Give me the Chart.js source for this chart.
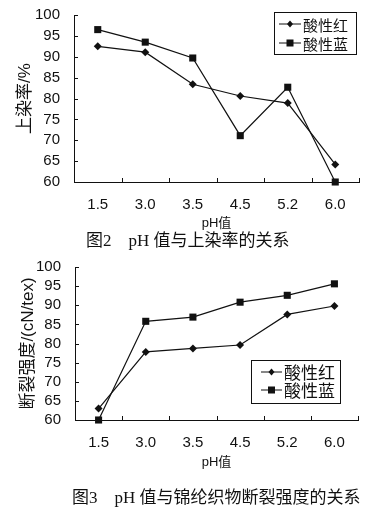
<!DOCTYPE html>
<html>
<head>
<meta charset="utf-8">
<script src="https://cdn.jsdelivr.net/npm/chart.js@4.4.1/dist/chart.umd.min.js"></script>
<style>
    body { margin: 0; background: #fff; }
    #pagina { position: relative; width: 375px; height: 509px; overflow: hidden; }
    canvas { position: absolute; left: 0; }
    .legenda-fig {
        position: absolute;
        font-family: "Liberation Serif", "Noto Sans CJK SC", serif;
        font-size: 17px;
        color: #111;
        white-space: pre;
        line-height: 20px;
    }
</style>
</head>
<body>
<div id="pagina">
    <canvas id="graficoTingimento" width="375" height="232" style="top:0"></canvas>
    <div class="legenda-fig" style="left:86px; top:231px;">图2　pH 值与上染率的关系</div>
    <canvas id="graficoResistencia" width="375" height="225" style="top:250px"></canvas>
    <div class="legenda-fig" style="left:72px; top:488px;">图3　pH 值与锦纶织物断裂强度的关系</div>
</div>

<script>
// dados
const valoresPH = ['1.5', '3.0', '3.5', '4.5', '5.2', '6.0'];
const nomesSeries = ['酸性红', '酸性蓝'];
const ticksY = [60, 65, 70, 75, 80, 85, 90, 95, 100];

const tingimentoVermelho = [92.5, 91.1, 83.4, 80.6, 78.9, 64.2];
const tingimentoAzul = [96.5, 93.5, 89.7, 71.1, 82.7, 60.0];

const resistenciaVermelho = [63.0, 77.8, 78.7, 79.6, 87.6, 89.8];
const resistenciaAzul = [60.0, 85.8, 86.9, 90.8, 92.6, 95.6];

const corTinta = '#111';
const fonteNum = "'Liberation Sans', Arial, sans-serif";
const fonteCJK = "'Liberation Sans', 'Noto Sans CJK SC', sans-serif";

// tracinhos para dentro nos eixos
const marcasInternas = {
    id: 'marcasInternas',
    afterDatasetsDraw(chart) {
        const ctx = chart.ctx;
        const x = chart.scales.x;
        const y = chart.scales.y;
        ctx.save();
        ctx.strokeStyle = corTinta;
        ctx.lineWidth = 1;
        ctx.beginPath();
        y.ticks.forEach(function (t, i) {
            const py = Math.round(y.getPixelForTick(i)) + 0.5;
            ctx.moveTo(x.left, py);
            ctx.lineTo(x.left + 4, py);
        });
        const meio = (x.getPixelForTick(1) - x.getPixelForTick(0)) / 2;
        x.ticks.forEach(function (t, i) {
            const px = Math.round(x.getPixelForTick(i) + meio) + 0.5;
            ctx.moveTo(px, y.bottom);
            ctx.lineTo(px, y.bottom - 4);
        });
        ctx.stroke();
        ctx.restore();
    }
};

// legenda com moldura, posicionada a mao
const caixaLegenda = {
    id: 'caixaLegenda',
    afterDraw(chart, args, opts) {
        const ctx = chart.ctx;
        ctx.save();
        ctx.strokeStyle = corTinta;
        ctx.lineWidth = 1;
        ctx.strokeRect(opts.x + 0.5, opts.y + 0.5, opts.w, opts.h);
        chart.data.datasets.forEach(function (ds, i) {
            const ly = opts.y + opts.linhas[i];
            ctx.beginPath();
            ctx.moveTo(opts.x + opts.linhaIni, ly);
            ctx.lineTo(opts.x + opts.linhaFim, ly);
            ctx.stroke();
            const mx = opts.x + (opts.linhaIni + opts.linhaFim) / 2;
            ctx.fillStyle = corTinta;
            if (ds.pointStyle === 'rect') {
                ctx.fillRect(mx - 3.5, ly - 3.5, 7, 7);
            } else {
                ctx.beginPath();
                ctx.moveTo(mx, ly - 3.5);
                ctx.lineTo(mx + 3, ly);
                ctx.lineTo(mx, ly + 3.5);
                ctx.lineTo(mx - 3, ly);
                ctx.closePath();
                ctx.fill();
            }
            ctx.font = opts.fonte + "px 'Noto Sans CJK SC', sans-serif";
            ctx.textBaseline = 'middle';
            ctx.fillText(ds.label, opts.x + opts.textoIni, ly + 1);
        });
        ctx.restore();
    }
};

function serie(nome, valores, estilo) {
    return {
        label: nome,
        data: valores,
        borderColor: corTinta,
        backgroundColor: corTinta,
        borderWidth: 1.2,
        pointStyle: estilo,
        pointRadius: estilo === 'rect' ? 5 : 4,
        pointBackgroundColor: corTinta,
        pointBorderWidth: 0,
        tension: 0,
        clip: false
    };
}

function criarGrafico(idCanvas, dadosVermelho, dadosAzul, cfg) {
    const ctx = document.getElementById(idCanvas).getContext('2d');
    return new Chart(ctx, {
        type: 'line',
        data: {
            labels: valoresPH,
            datasets: [
                serie(nomesSeries[0], dadosVermelho, 'rectRot'),
                serie(nomesSeries[1], dadosAzul, 'rect')
            ]
        },
        options: {
            responsive: false,
            devicePixelRatio: 1,
            animation: false,
            layout: { padding: { top: cfg.topo, right: cfg.direita, bottom: 0, left: 0 } },
            plugins: {
                legend: { display: false },
                tooltip: { enabled: false },
                caixaLegenda: cfg.legenda
            },
            scales: {
                x: {
                    offset: true,
                    grid: { display: false },
                    border: { display: true, color: corTinta, width: 1 },
                    ticks: { color: corTinta, padding: 6, maxRotation: 0, autoSkip: false, font: { family: fonteNum, size: 15 } },
                    title: {
                        display: true,
                        text: 'pH值',
                        color: corTinta,
                        font: { family: fonteCJK, size: 13 },
                        padding: { top: 0, bottom: cfg.tituloX }
                    },
                    afterFit: function (scale) { scale.height = cfg.alturaX; }
                },
                y: {
                    min: ticksY[0],
                    max: ticksY[ticksY.length - 1],
                    grid: { display: false },
                    border: { display: true, color: corTinta, width: 1 },
                    ticks: {
                        stepSize: ticksY[1] - ticksY[0],
                        autoSkip: false,
                        color: corTinta,
                        padding: 6,
                        font: { family: fonteNum, size: 15 }
                    },
                    title: {
                        display: true,
                        text: cfg.tituloY,
                        color: corTinta,
                        font: { family: fonteCJK, size: cfg.fonteY },
                        padding: { top: cfg.posTituloY, bottom: 0 }
                    },
                    afterFit: function (scale) { scale.width = cfg.larguraY; }
                }
            }
        },
        plugins: [marcasInternas, caixaLegenda]
    });
}

criarGrafico('graficoTingimento', tingimentoVermelho, tingimentoAzul, {
    topo: 12, direita: 16, alturaX: 50, tituloX: 1, larguraY: 74,
    tituloY: '上染率/%', fonteY: 17, posTituloY: 15,
    legenda: { x: 274, y: 12, w: 82, h: 42, linhas: [12, 31], linhaIni: 5, linhaFim: 27, textoIni: 29, fonte: 15 }
});

criarGrafico('graficoResistencia', resistenciaVermelho, resistenciaAzul, {
    topo: 17, direita: 17, alturaX: 55, tituloX: 5, larguraY: 75,
    tituloY: '断裂强度/(cN/tex)', fonteY: 17, posTituloY: 18,
    legenda: { x: 251, y: 110, w: 89, h: 43, linhas: [12, 30], linhaIni: 10, linhaFim: 31, textoIni: 33, fonte: 17 }
});
</script>
</body>
</html>
